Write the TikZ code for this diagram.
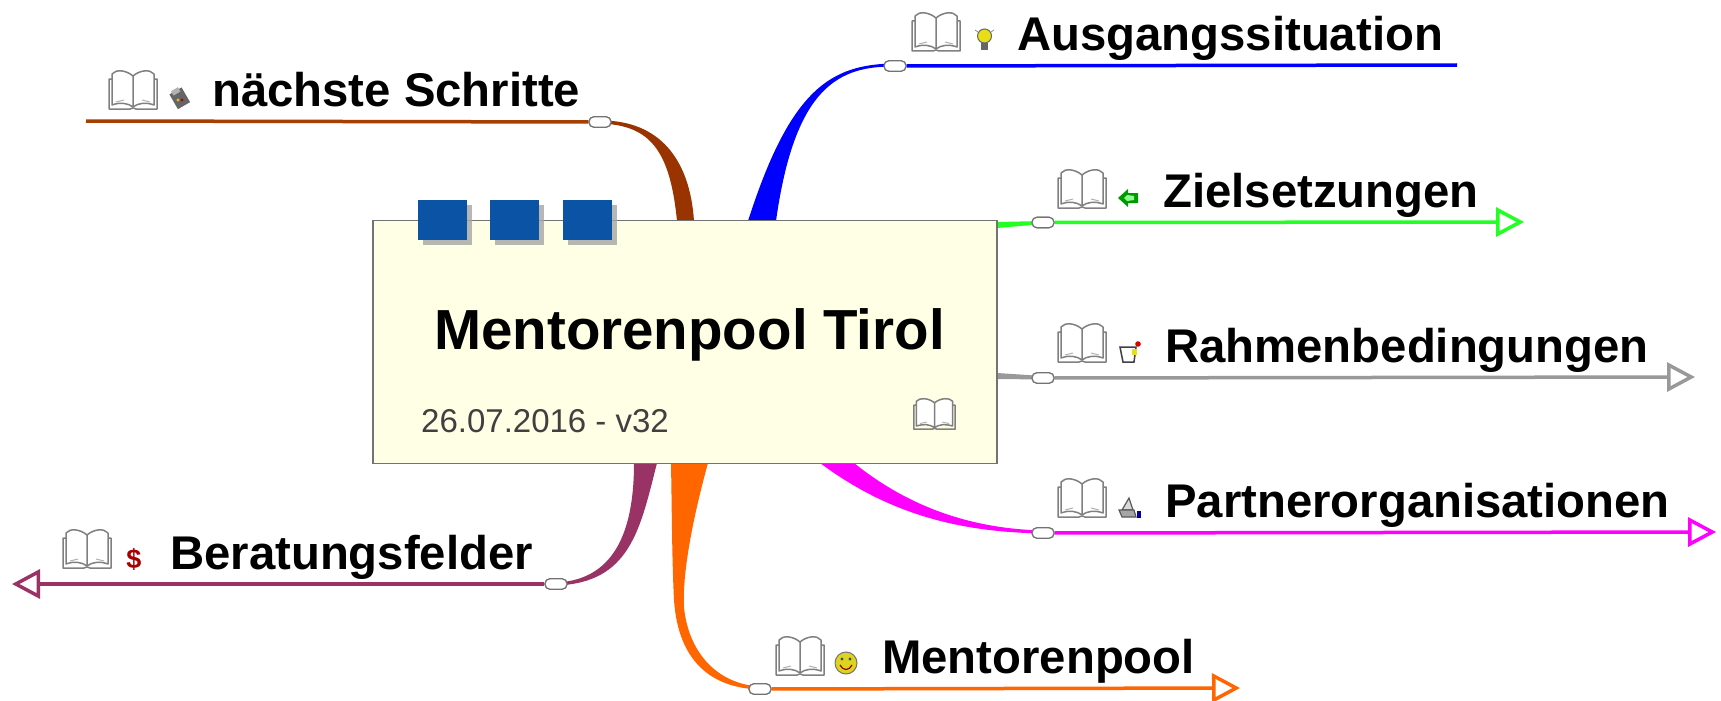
\documentclass[tikz,border=0pt]{standalone}
\usepackage{fontspec}
\setmainfont{Liberation Sans}
\usetikzlibrary{arrows.meta,shapes.geometric,shadows}
\definecolor{cbrown}{HTML}{993300}
\definecolor{cblue}{HTML}{0000FF}
\definecolor{cgreen}{HTML}{22FF22}
\definecolor{cgray}{HTML}{999999}
\definecolor{cmag}{HTML}{FF00FF}
\definecolor{corange}{HTML}{FF6600}
\definecolor{cpurple}{HTML}{993366}
\definecolor{boxfill}{HTML}{FFFFE6}
\definecolor{tabblue}{HTML}{0B53A4}
\tikzset{
  x=1pt,y=-1pt,
  topic/.style={anchor=base west,inner sep=0pt,font=\fontsize{47.3}{47.3}\selectfont\bfseries,text=black},
  junction/.style={rectangle,rounded corners=5pt,draw=black!55,fill=white,line width=1.2pt,minimum width=22pt,minimum height=10.5pt,inner sep=0pt},
  branch/.style={line width=3.5pt},
  tip/.style={-{Triangle[open,length=28pt,width=29pt]}},
  tabbox/.style={fill=tabblue,minimum width=49pt,minimum height=40pt,inner sep=0pt,drop shadow={shadow xshift=5pt,shadow yshift=-5pt,fill=black!35,opacity=.8}},
  bookpic/.pic={
    \draw[black!50,line width=1.5pt,fill=white,line join=round]
      (25,37) -- (25,6) .. controls (18,0) and (8,-1) .. (4,4) -- (4,35) .. controls (12,32) and (20,33) .. (25,37)
      .. controls (30,33) and (38,32) .. (46,35) -- (46,4) .. controls (42,-1) and (32,0) .. (25,6);
    \draw[black!50,line width=1.5pt,line join=round] (4,9) -- (1,9) -- (1,39) -- (22,39) -- (25,38) -- (28,39) -- (49,39) -- (49,9) -- (46,9);
    \draw[black!30,line width=1pt] (8,32) -- (16,30) (34,30) -- (42,32);
  },
}
\begin{document}
\begin{tikzpicture}
\useasboundingbox (0,0) rectangle (1721,701);
\fill[white] (0,0) rectangle (1721,701);

% coordinates on the central box and free ends
\coordinate (a1) at (677,221); \coordinate (a2) at (694,221);
\coordinate (b1) at (748,221); \coordinate (b2) at (776,221);
\coordinate (c1) at (820,463); \coordinate (c2) at (854,463);
\coordinate (d1) at (671,463); \coordinate (d2) at (708,463);
\coordinate (f1) at (634,463); \coordinate (f2) at (657,463);
\coordinate (g1) at (997,222); \coordinate (g2) at (997,228);
\coordinate (h1) at (997,373); \coordinate (h2) at (997,379);

\node[junction] (jn) at (600,122) {};
\node[junction] (ja) at (895,66) {};
\node[junction] (jz) at (1043,222.5) {};
\node[junction] (jr) at (1043,378) {};
\node[junction] (jp) at (1043,533) {};
\node[junction] (jm) at (760,689) {};
\node[junction] (jb) at (556,584) {};

\coordinate (en) at (86,121);
\coordinate (ea) at (1457,65);
\coordinate (ez) at (1524,222);
\coordinate (er) at (1695,377);
\coordinate (ep) at (1716,532);
\coordinate (em) at (1240,688);
\coordinate (eb) at (12,584);

% tapered branches
\fill[cbrown] (a2) .. controls (690,160) and (660,120) .. (600,120.5) -- (600,123.5) .. controls (650,125) and (670,150) .. (a1) -- cycle;
\fill[cblue] (b2) .. controls (795,85) and (840,66) .. (895,66.5) -- (895,63.5) .. controls (830,64) and (790,90) .. (b1) -- cycle;
\fill[cgreen] (g1) -- (1043,221) -- (1043,224) -- (g2) -- cycle;
\fill[cgray] (h1) -- (1043,376) -- (1043,379.5) -- (h2) -- cycle;
\fill[cmag] (c2) .. controls (915,512) and (980,529) .. (1043,530.5) -- (1043,533.5) .. controls (960,532) and (890,515) .. (c1) -- cycle;
\fill[corange] (d1) .. controls (672,520) and (672,560) .. (674,600) .. controls (678,660) and (710,688) .. (760,689.5) -- (760,686.5) .. controls (715,684) and (688,650) .. (684,607) .. controls (682,570) and (695,510) .. (d2) -- cycle;
\fill[cpurple] (f1) .. controls (634,525) and (618,580) .. (556,582.5) -- (556,585.5) .. controls (630,583) and (640,530) .. (f2) -- cycle;

% straight branch lines
\draw[branch,cbrown!85!orange] (jn) -- (en);
\draw[branch,cblue] (ja) -- (ea);
\draw[branch,cgreen,tip] (jz) -- (ez);
\draw[branch,cgray,tip] (jr) -- (er);
\draw[branch,cmag,tip] (jp) -- (ep);
\draw[branch,corange,tip] (jm) -- (em);
\draw[branch,cpurple,tip] (jb) -- (eb);

% junctions on top
\node[junction] at (jn) {};
\node[junction] at (ja) {};
\node[junction] at (jz) {};
\node[junction] at (jr) {};
\node[junction] at (jp) {};
\node[junction] at (jm) {};
\node[junction] at (jb) {};

% central box
\node[draw=black!55,fill=boxfill,line width=1.2pt,minimum width=624pt,minimum height=243pt,inner sep=0pt] (main) at (685,342) {};
\node[tabbox] (t1) at (442,220) {};
\node[tabbox] (t2) at (514,220) {};
\node[tabbox] (t3) at (587,220) {};
\node[anchor=base west,inner sep=0pt,font=\fontsize{56.5}{56.5}\selectfont\bfseries,text=black] (title) at (434,349) {Mentorenpool Tirol};
\node[anchor=base west,inner sep=0pt,font=\fontsize{33}{33}\selectfont,text=black!75] (date) at (421,432) {26.07.2016 - v32};

% labels
\node[topic] (ln) at (212,106) {nächste Schritte};
\node[topic] (la) at (1017,51) {Ausgangssituation};
\node[topic] (lz) at (1163,207) {Zielsetzungen};
\node[topic] (lr) at (1165,362) {Rahmenbedingungen};
\node[topic] (lp) at (1165,517) {Partnerorganisationen};
\node[topic] (lm) at (882,673) {Mentorenpool};
\node[topic] (lb) at (170,569) {Beratungsfelder};

% books
\pic at (108,70) {bookpic};
\pic at (911,12) {bookpic};
\pic at (1057,169) {bookpic};
\pic at (1057,323) {bookpic};
\pic at (1057,478) {bookpic};
\pic at (775,636) {bookpic};
\pic at (62,529) {bookpic};
\pic[xscale=.86,yscale=.8] at (913,398) {bookpic};

% small icons
% pencil-box, next steps
\fill[black!60,rotate around={30:(179,97)}] (172,90) rectangle (186,107);
\fill[black!30,rotate around={30:(179,97)}] (175,88) rectangle (183,93);
\fill[red!70!black] (182,100) circle (1.6);
\fill[yellow!80!black] (178,100) circle (1.6);
% bulb
\fill[yellow!90!black,draw=black!60,line width=1pt] (984.5,36) circle (7);
\fill[black!60] (981,43) rectangle (988,50);
\draw[black!45,line width=.8pt] (975,30) -- (978,32) (994,30) -- (991,32);
% arrow
\fill[green!60!black] (1118,198) -- (1128,189) -- (1128,193) -- (1138,193) -- (1138,203) -- (1128,203) -- (1128,207) -- cycle;
\fill[green!45] (1124,198) -- (1127,195) -- (1134,196) -- (1134,200) -- (1127,201) -- cycle;
% note
\draw[black!75,fill=white,line width=1.5pt] (1120,347) -- (1136,347) -- (1134,362) -- (1123,362) -- cycle;
\fill[yellow!90!black] (1132,349) rectangle (1137,355);
\fill[red!85!black] (1138,344) circle (2.8);
% partner
\draw[black!65,fill=black!15,line width=1.2pt] (1122,510) -- (1129,498) -- (1133,510) -- cycle;
\draw[black!65,fill=black!35,line width=1.2pt] (1119,510) -- (1134,510) -- (1136,517) -- (1122,517) -- cycle;
\fill[blue!60!black] (1137,511) rectangle (1141,518);
% smiley
\fill[yellow!85!black,draw=black!55,line width=1pt] (846,663) circle (11);
\fill[black!70] (842,659) circle (1.6) (850,659) circle (1.6);
\draw[red!60!black,line width=1.2pt] (840,665) .. controls (843,671) and (849,671) .. (852,665);
% dollar
\node[inner sep=0pt,font=\fontsize{27}{27}\selectfont\bfseries,text=red!65!black] (dollar) at (134,559) {\$};
\end{tikzpicture}
\end{document}
